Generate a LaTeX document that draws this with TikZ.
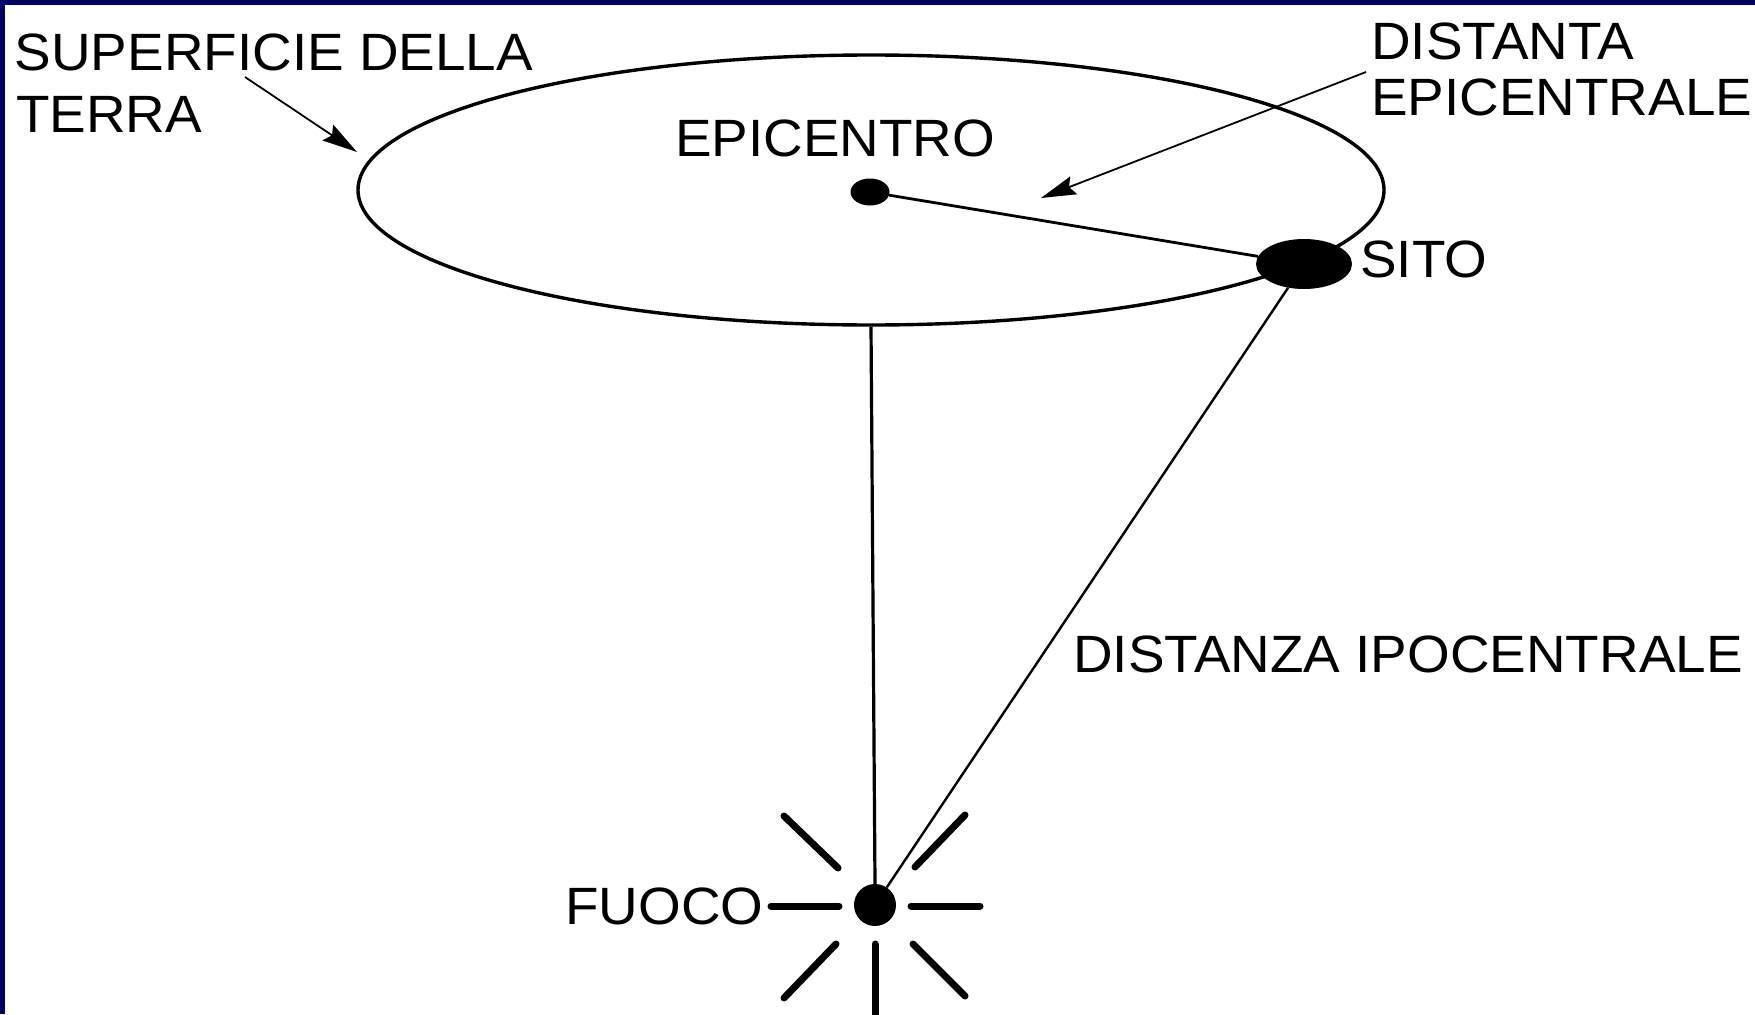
\documentclass[tikz,border=0pt]{standalone}
\usepackage{fontspec}
\setmainfont[FakeStretch=1.045]{Liberation Sans}
\usetikzlibrary{shapes.geometric,arrows.meta}
\definecolor{framenavy}{RGB}{0,0,102}

\begin{document}
\begin{tikzpicture}[x=1pt,y=-1pt,
  labeltext/.style={anchor=base west, inner sep=0pt, font=\fontsize{52.5}{62}\selectfont},
  pointer/.style={line width=1.8pt, -{Stealth[length=35pt,width=19pt,inset=5pt]}},
  ray/.style={line width=7pt, line cap=round},
  link/.style={line width=2.8pt},
  blob/.style={ellipse, fill=black, inner sep=0pt},
]
\useasboundingbox (0,0) rectangle (1755,1014);
\fill[white] (0,0) rectangle (1755,1014);
% frame strips along the top and left edges
\fill[framenavy] (0,0) rectangle (1755,5);
\fill[framenavy] (0,0) rectangle (5,1014);

% earth surface, epicentre, site and focus
\node[ellipse, draw, line width=3.4pt, minimum width=1026pt, minimum height=270pt, inner sep=0pt] (terra) at (871,190) {};
\node[blob, minimum width=39pt, minimum height=27pt] (epi) at (870,192) {};
\node[blob, minimum width=96pt, minimum height=50pt] (sito) at (1304,264) {};
\node[circle, fill=black, minimum size=42pt, inner sep=0pt] (fuoco) at (875,905) {};

% distances
\draw[link] (epi) -- (sito);
\draw[link, line width=2.4pt] (sito) -- (fuoco);
\draw[link, line width=3.2pt] (terra.south) -- (fuoco.north);

% rays round the focus
\begin{scope}[shift={(875,905)}]
  \draw[ray] (-104,1) -- (-36,1);
  \draw[ray] (36,1) -- (105,1);
  \draw[ray] (0,39) -- (0,115);
  \draw[ray] (-91,-89) -- (-37,-37);
  \draw[ray] (90,-90) -- (40,-38);
  \draw[ray] (-39,39) -- (-91,93);
  \draw[ray] (38,39) -- (90,91);
\end{scope}

% labels
\node[labeltext] (superficie) at (14.5,71) {SUPERFICIE DELLA};
\node[labeltext] (terralbl) at (16,132) {TERRA};
\node[labeltext] (epilbl) at (675,157) {EPICENTRO};
\node[labeltext] (distanta) at (1371,60) {DISTANTA};
\node[labeltext] (epicentrale) at (1371,116) {EPICENTRALE};
\node[labeltext] (sitolbl) at (1360,277) {SITO};
\node[labeltext] (ipocentrale) at (1073,672) {DISTANZA IPOCENTRALE};
\node[labeltext] (fuocolbl) at (565,924) {FUOCO};

% pointers
\coordinate (supTail) at (245,77);
\coordinate (supTip) at (357,152);
\draw[pointer] (supTail) -- (supTip);
\coordinate (epiTail) at (1366,72);
\coordinate (epiTip) at (1041,198);
\draw[pointer] (epiTail) -- (epiTip);
\end{tikzpicture}
\end{document}
